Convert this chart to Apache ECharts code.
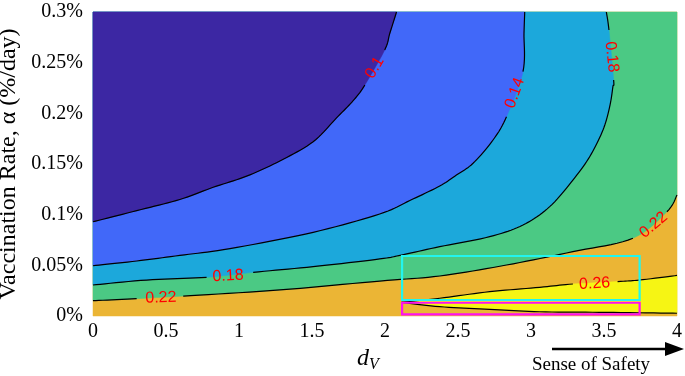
<!DOCTYPE html>
<html>
<head>
<meta charset="utf-8">
<script src="https://cdn.jsdelivr.net/npm/echarts@6/dist/echarts.min.js"></script>
<style>
html, body { margin: 0; padding: 0; background: #fff; }
#chart { width: 685px; height: 376px; }
</style>
</head>
<body>
<div id="chart"></div>
<script>
// contour lines: [d_V, alpha in %]; null = gap where the label sits
var c10 = [[0, 0.093], [0.30, 0.104], [0.595, 0.115], [0.823, 0.127], [1.052, 0.138], [1.28, 0.153],
    [1.508, 0.172], [1.668, 0.1955], [1.782, 0.2125], [1.862, 0.228], null, [1.998, 0.2625], [2.033, 0.279], [2.079, 0.3]];
var c14 = [[0, 0.0496], [0.30, 0.0543], [0.595, 0.0598], [0.938, 0.0665], [1.508, 0.0826], [1.964, 0.1007],
    [2.17, 0.114], [2.375, 0.1283], [2.489, 0.1391], [2.603, 0.1507], [2.74, 0.1737], [2.832, 0.1967], null,
    [2.945, 0.2411], [2.952, 0.279], [2.957, 0.3]];
var c18 = [[0, 0.0306], [0.368, 0.0355], [0.778, 0.0382], null, [1.097, 0.0431], [1.508, 0.0487], [1.964, 0.0563],
    [2.113, 0.0602], [2.375, 0.0684], [2.717, 0.0783], [2.945, 0.0898], [3.128, 0.1079], [3.287, 0.1342],
    [3.402, 0.1572], [3.493, 0.1836], [3.539, 0.2066], [3.561, 0.2263], [3.566, 0.2329], null,
    [3.534, 0.2822], [3.516, 0.3]];
var c22 = [[0, 0.0151], [0.299, 0.0171], null, [0.618, 0.0197], [1.28, 0.0257], [1.964, 0.0345], [2.375, 0.0395],
    [2.832, 0.0503], [3.287, 0.0635], [3.698, 0.0767], null, [3.931, 0.1029], [4, 0.1194]];
var c26top = [[2.113, 0.0135], [2.375, 0.0175], [2.717, 0.024], [3.06, 0.0283], [3.287, 0.0316], null,
    [3.593, 0.034], [3.744, 0.0355], [4, 0.040]];
var c26bot = [[2.113, 0.0135], [2.375, 0.0092], [2.717, 0.0066], [3.06, 0.0042], [3.516, 0.0036], [4, 0.0027]];

// contour label text and where it goes
var labelText = ['0.1', '0.14', '0.18', '0.18', '0.22', '0.22', '0.26'];
var labelPos = [[1.93, 0.245], [2.89, 0.22], [3.552, 0.2556], [0.925, 0.0395], [3.84, 0.0898], [0.465, 0.018], [3.436, 0.0319]];
var labelAngle = [60, 70, -84, 3, 40, 2, 3];

// highlighted boxes [x1, y1, x2, y2]
var boxes = [[2.117, 0.0158, 3.744, 0.0592], [2.117, 0.0017, 3.744, 0.0131]];
var boxColors = ['#22f5ee', '#ff10f0'];

var xMin = 0, xMax = 4, yMin = 0, yMax = 0.3;

// split a contour into its points and the gaps left for labels
function parse(c) {
    var pts = [], gaps = {};
    c.forEach(function (p) {
        if (p) pts.push(p);
        else gaps[pts.length - 1] = true;
    });
    return { pts: pts, gaps: gaps };
}

// catmull-rom through pixel points, returns one list of sampled points per segment
function curveSegs(P) {
    var out = [];
    for (var i = 0; i < P.length - 1; i++) {
        var p0 = P[i - 1] || P[i], p1 = P[i], p2 = P[i + 1], p3 = P[i + 2] || P[i + 1];
        var seg = [];
        for (var k = 0; k <= 10; k++) {
            var t = k / 10, t2 = t * t, t3 = t2 * t;
            seg.push([0, 1].map(function (d) {
                return 0.5 * (2 * p1[d] + (-p0[d] + p2[d]) * t + (2 * p0[d] - 5 * p1[d] + 4 * p2[d] - p3[d]) * t2 +
                    (-p0[d] + 3 * p1[d] - 3 * p2[d] + p3[d]) * t3);
            }));
        }
        out.push(seg);
    }
    return out;
}

var regions = [
    { line: [], close: [[xMin, yMin], [xMax, yMin], [xMax, yMax], [xMin, yMax]], color: '#ebb535' },
    { line: [c22], close: [[xMax, yMax], [xMin, yMax]], color: '#4bc984' },
    { line: [c18], close: [[xMin, yMax]], color: '#1ca8db' },
    { line: [c14], close: [[xMin, yMax]], color: '#4168f9' },
    { line: [c10], close: [[xMin, yMax]], color: '#3c27a3' },
    { line: [c26top, c26bot], close: [], color: '#f6f514' }
];
var contours = [c10, c14, c18, c22, c26top, c26bot];

var chart = echarts.init(document.getElementById('chart'));
var serif = 'Liberation Serif';

function coords(api, pts) {
    return pts.map(function (p) { return api.coord(p); });
}

var option = {
    animation: false,
    grid: { left: 93, top: 12, width: 584, height: 304, outerBoundsMode: 'none', containLabel: false },
    xAxis: {
        type: 'value', min: xMin, max: xMax, interval: 0.5,
        axisLine: { show: false }, axisTick: { show: false }, splitLine: { show: false },
        axisLabel: { color: '#000', fontFamily: serif, fontSize: 20, margin: 6 },
        name: '{d|d}{v|V}', nameLocation: 'middle', nameGap: 26,
        nameTextStyle: {
            padding: [0, 34, 0, 0],
            rich: {
                d: { fontFamily: serif, fontStyle: 'italic', fontSize: 24, color: '#000' },
                v: { fontFamily: serif, fontStyle: 'italic', fontSize: 16, color: '#000', padding: [12, 0, 0, 0] }
            }
        }
    },
    yAxis: {
        type: 'value', min: yMin, max: yMax, interval: 0.05,
        axisLine: { show: false }, axisTick: { show: false }, splitLine: { show: false },
        axisLabel: {
            color: '#000', fontFamily: serif, fontSize: 20, margin: 10,
            formatter: function (v) { return parseFloat(v.toFixed(2)) + '%'; }
        },
        name: 'Vaccination Rate, α (%/day)', nameLocation: 'middle', nameGap: 69, nameRotate: 90,
        nameTextStyle: { fontFamily: serif, fontSize: 24, color: '#000' }
    },
    series: [
        {
            type: 'custom', name: 'fill',
            data: regions.map(function (r, i) { return [i, 0]; }),
            renderItem: function (params, api) {
                var r = regions[params.dataIndex];
                var pts = [];
                r.line.forEach(function (c, j) {
                    var P = coords(api, parse(c).pts);
                    var sampled = [];
                    curveSegs(P).forEach(function (s) { sampled = sampled.concat(s); });
                    if (j === 1) sampled.reverse();
                    pts = pts.concat(sampled);
                });
                pts = pts.concat(coords(api, r.close));
                return { type: 'polygon', shape: { points: pts }, style: { fill: r.color, stroke: r.color, lineWidth: 0.5 } };
            }
        },
        {
            type: 'custom', name: 'contours',
            data: contours.map(function (c, i) { return [i, 0]; }),
            renderItem: function (params, api) {
                var pc = parse(contours[params.dataIndex]);
                var segs = curveSegs(coords(api, pc.pts));
                var lines = [], cur = [];
                segs.forEach(function (s, i) {
                    if (pc.gaps[i]) { lines.push(cur); cur = []; }
                    else cur = cur.concat(s);
                });
                lines.push(cur);
                return {
                    type: 'group',
                    children: lines.filter(function (l) { return l.length; }).map(function (l) {
                        return { type: 'polyline', shape: { points: l }, style: { fill: null, stroke: '#000', lineWidth: 1.2 } };
                    })
                };
            }
        },
        {
            type: 'custom', name: 'labels',
            data: labelPos,
            renderItem: function (params, api) {
                var i = params.dataIndex;
                var pt = api.coord([api.value(0), api.value(1)]);
                return {
                    type: 'text', x: pt[0], y: pt[1],
                    rotation: labelAngle[i] * Math.PI / 180,
                    style: {
                        text: labelText[i], x: 0, y: 0, fill: '#ff0000',
                        font: '16px "Liberation Sans"', align: 'center', verticalAlign: 'middle'
                    }
                };
            }
        },
        {
            type: 'custom', name: 'boxes',
            dimensions: ['x1', 'y1', 'x2', 'y2'],
            encode: { x: [0, 2], y: [1, 3] },
            data: boxes,
            renderItem: function (params, api) {
                var a = api.coord([api.value(0), api.value(3)]);
                var b = api.coord([api.value(2), api.value(1)]);
                return {
                    type: 'rect',
                    shape: { x: a[0], y: a[1], width: b[0] - a[0], height: b[1] - a[1] },
                    style: { fill: null, stroke: boxColors[params.dataIndex], lineWidth: 2.2 }
                };
            }
        }
    ],
    graphic: [
        { type: 'line', shape: { x1: 552, y1: 349, x2: 670, y2: 349 }, style: { stroke: '#000', lineWidth: 2.6 } },
        { type: 'polygon', shape: { points: [[684, 349], [665, 342], [665, 356]] }, style: { fill: '#000' } },
        {
            type: 'text', x: 591, y: 365,
            style: { text: 'Sense of Safety', font: '19px "Liberation Serif"', fill: '#000', align: 'center', verticalAlign: 'middle' }
        }
    ]
};
chart.setOption(option);
</script>
</body>
</html>
